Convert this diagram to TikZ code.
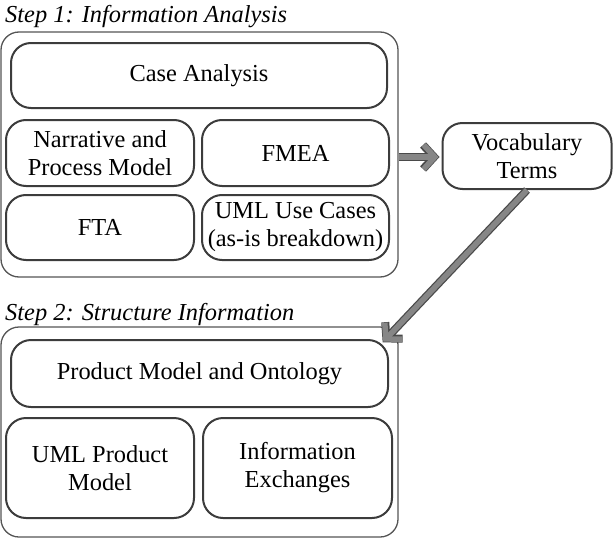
\documentclass[tikz,border=0pt]{standalone}
\usepackage{fontspec}
\setmainfont{Liberation Serif}
\usetikzlibrary{arrows.meta,calc}

\definecolor{boxline}{HTML}{3C3C3C}
\definecolor{frameline}{HTML}{555555}
\definecolor{arrowfill}{HTML}{868686}
\definecolor{arrowedge}{HTML}{4A4A4A}

\tikzset{
  txt/.style={font=\fontsize{24.4}{28}\selectfont, align=center, text=black},
  frame/.style={draw=frameline, line width=1.3pt, rounded corners=18pt, inner sep=0pt},
  item/.style={txt, draw=boxline, line width=2pt, rounded corners=20pt, inner sep=0pt},
  steptitle/.style={font=\fontsize{24.4}{28}\selectfont\itshape, anchor=base west, inner sep=0pt},
  fatarrowbase/.style={draw=arrowedge, line width=8pt,
    -{Straight Barb[length=11pt, width=24pt, line width=8pt]}},
  fatarrowtop/.style={draw=arrowfill, line width=5.5pt, shorten >=1pt,
    -{Straight Barb[length=11pt, width=24pt, line width=5.5pt]}},
}

\begin{document}
\begin{tikzpicture}[x=1pt, y=-1pt]
\useasboundingbox (0,0) rectangle (613,538);

% Step 1 frame and its contents
\node[steptitle] (t1) at (5,23) {Step 1: Information Analysis};
\node[frame, minimum width=397pt, minimum height=245pt] (box1) at (199.5,154.5) {};
\node[item, minimum width=376pt, minimum height=65pt] (case) at (199,75.5) {Case Analysis};
\node[item, minimum width=188pt, minimum height=66pt] (narr) at (100,153) {Narrative and\\Process Model};
\node[item, minimum width=187pt, minimum height=66pt] (fmea) at (295.5,153) {FMEA};
\node[item, minimum width=188pt, minimum height=65pt] (fta) at (100,227.5) {FTA};
\node[item, minimum width=187pt, minimum height=65pt] (uml) at (295.5,227.5) {UML Use Cases\\(as-is breakdown)};

% Vocabulary
\node[item, minimum width=169pt, minimum height=66pt] (voc) at (527,156) {Vocabulary\\Terms};

% Step 2 frame and its contents
\node[steptitle] (t2) at (5,320) {Step 2: Structure Information};
\node[frame, minimum width=397pt, minimum height=210pt] (box2) at (199.5,432) {};
\node[item, minimum width=377pt, minimum height=67pt] (pmo) at (199.5,373.5) {Product Model and Ontology};
\node[item, minimum width=188pt, minimum height=100pt] (umlp) at (100,468) {UML Product\\Model};
\node[item, minimum width=189pt, minimum height=100pt] (iex) at (297.5,468) {Information\\Exchanges};

% connectors: dark outline drawn first, grey body on top
\coordinate (entry) at ($(box2.north east)+(-16,16)$);
\coordinate (vocin) at ($(voc.west)+(-2,1)$);
\draw[fatarrowbase] (box1.east |- vocin) -- (vocin);
\draw[fatarrowtop] (box1.east |- vocin) -- (vocin);
\draw[fatarrowbase] (voc.south) -- (entry);
\draw[fatarrowtop] (voc.south) -- (entry);
\end{tikzpicture}
\end{document}
